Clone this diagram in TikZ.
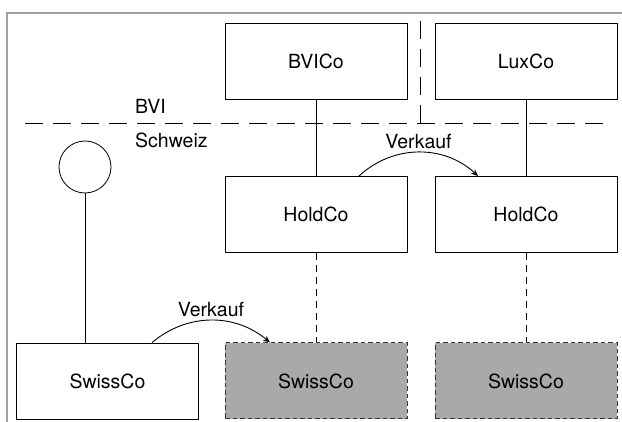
\documentclass[tikz,border=0pt]{standalone}
\usepackage{fontspec}
\setmainfont{TeX Gyre Heros}
\usepackage{tikz}
\usetikzlibrary{arrows.meta}
\definecolor{framegray}{HTML}{A0A0A0}
\definecolor{newgray}{HTML}{A9A9A9}
\definecolor{edgegray}{HTML}{333333}

\begin{document}
\begin{tikzpicture}[x=1pt,y=-1pt,
  font=\fontsize{19.5}{23}\selectfont,
  co/.style={draw,line width=0.9pt,minimum width=182,minimum height=76,inner sep=0pt},
  newco/.style={co,fill=newgray,draw=edgegray,line width=1pt,dash pattern=on 4.5pt off 3pt},
  link/.style={line width=0.7pt},
  weak/.style={link,dash pattern=on 7pt off 5pt},
  border/.style={dash pattern=on 18pt off 10pt,line width=0.8pt},
  sale/.style={line width=0.9pt,-{Stealth[length=7pt,width=6pt]}}]
  \useasboundingbox (0,0) rectangle (622,422);
  \draw[framegray,line width=1.2pt] (7,422) -- (7,13) -- (622,13);
  % jurisdictions
  \draw[border] (25,123) -- (603,123);
  \draw[border] (420,21) -- (420,123);
  \node[anchor=base west,inner sep=0pt] (bvi) at (135,114) {BVI};
  \node[anchor=base west,inner sep=0pt] (ch) at (135,148) {Schweiz};
  % companies
  \node[co] (bvico) at (316,61) {BVICo};
  \node[co] (luxco) at (526,61) {LuxCo};
  \node[co] (hold1) at (316,214.5) {HoldCo};
  \node[co] (hold2) at (526,214.5) {HoldCo};
  \node[co] (swiss) at (107.5,381) {SwissCo};
  \node[newco] (swissA) at (316,381) {SwissCo};
  \node[newco] (swissB) at (526,381) {SwissCo};
  \node[circle,draw,line width=0.8pt,minimum size=52,inner sep=0pt] (owner) at (85,167) {};
  % holdings
  \draw[link] (owner.south) -- (owner.south |- swiss.north);
  \draw[link] (bvico) -- (hold1);
  \draw[link] (luxco) -- (hold2);
  \draw[weak] (hold1) -- (swissA);
  \draw[weak] (hold2) -- (swissB);
  % sales
  \draw[sale] ([xshift=43]hold1.north) to[bend left=43]
    node[above] (sale1) {Verkauf} ([xshift=-48]hold2.north);
  \draw[sale] ([xshift=44.5]swiss.north) to[bend left=40]
    node[above] (sale2) {Verkauf} ([xshift=-46]swissA.north);
\end{tikzpicture}
\end{document}
